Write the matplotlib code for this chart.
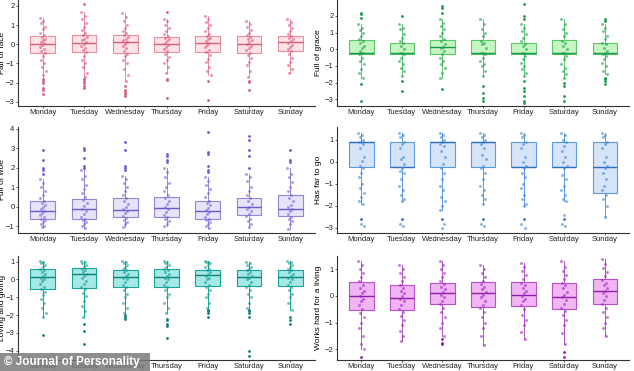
import matplotlib
matplotlib.use('Agg')
import matplotlib.pyplot as plt
from matplotlib.patches import Rectangle
import numpy as np

plt.rcParams['font.family'] = ['Liberation Sans', 'DejaVu Sans']

days = ['Monday', 'Tuesday', 'Wednesday', 'Thursday', 'Friday', 'Saturday', 'Sunday']

# --- Fair of face ---
face_q1 = [-0.47, -0.40, -0.48, -0.38, -0.38, -0.47, -0.35]
face_med = [0.0, 0.05, 0.10, 0.0, 0.05, 0.0, 0.10]
face_q3 = [0.45, 0.47, 0.50, 0.40, 0.45, 0.45, 0.45]
face_lo = [-1.7, -1.7, -1.9, -1.5, -1.6, -1.7, -1.5]
face_hi = [1.35, 1.7, 1.65, 1.3, 1.45, 1.2, 1.3]
face_out = [[-1.8, -1.9, -2.0, -2.3, -2.4, -2.6], [2.1, -1.8, -1.9, -2.0, -2.2, -2.3],
            [-2.2, -2.4, -2.5, -2.6, -2.7], [1.7, -1.8, -1.85, -2.8], [-1.9, -2.9],
            [-1.9, -1.95, -2.4], []]
face_pts = [
    [1.35, 1.2, 1.1, 0.9, 0.8, 0.6, 0.5, 0.4, 0.3, 0.2, 0.1, 0.05, -0.05, -0.15, -0.25, -0.35, -0.45, -0.6, -0.8, -1.0, -1.2, -1.4, -1.6],
    [1.7, 1.5, 1.3, 1.1, 0.9, 0.75, 0.6, 0.5, 0.4, 0.3, 0.2, 0.1, 0.0, -0.1, -0.2, -0.3, -0.4, -0.6, -0.8, -1.0, -1.2, -1.5, -1.7],
    [1.65, 1.4, 1.2, 1.0, 0.85, 0.7, 0.6, 0.5, 0.4, 0.3, 0.2, 0.1, 0.0, -0.1, -0.2, -0.35, -0.5, -0.6, -0.8, -1.0, -1.3, -1.6, -1.9],
    [1.3, 1.2, 1.0, 0.85, 0.7, 0.55, 0.45, 0.35, 0.25, 0.15, 0.05, -0.05, -0.15, -0.25, -0.35, -0.5, -0.65, -0.8, -1.0, -1.2, -1.5],
    [1.45, 1.3, 1.15, 1.0, 0.85, 0.7, 0.55, 0.45, 0.35, 0.25, 0.15, 0.05, -0.05, -0.15, -0.3, -0.4, -0.55, -0.75, -0.95, -1.2, -1.4, -1.6],
    [1.2, 1.05, 0.9, 0.75, 0.6, 0.5, 0.4, 0.3, 0.2, 0.1, 0.0, -0.1, -0.2, -0.3, -0.45, -0.55, -0.7, -0.9, -1.1, -1.4, -1.7],
    [1.3, 1.15, 1.0, 0.85, 0.7, 0.55, 0.45, 0.35, 0.25, 0.15, 0.05, -0.05, -0.15, -0.25, -0.35, -0.5, -0.7, -0.9, -1.1, -1.3, -1.5],
]

# --- Full of grace ---
grace_q1 = [-0.28, -0.28, -0.28, -0.28, -0.28, -0.28, -0.28]
grace_med = [-0.22, -0.22, 0.12, -0.22, -0.22, -0.22, -0.22]
grace_q3 = [0.53, 0.40, 0.57, 0.53, 0.38, 0.57, 0.36]
grace_lo = [-1.7, -1.6, -1.7, -1.6, -1.6, -1.7, -1.5]
grace_hi = [1.5, 1.5, 1.8, 1.8, 1.5, 1.8, 1.5]
grace_out = [[1.9, 2.1, 2.2, -2.1, -3.1], [2.0, -1.9, -2.5], [2.2, 2.5, 2.6, -2.4],
             [-2.2, -2.6, -2.9, -3.1], [1.8, 2.0, 2.7, -1.9, -2.3, -2.5, -2.8, -3.1, -3.2],
             [-2.0, -2.2, -2.8, -3.1], [1.7, 1.8, -1.7, -1.8, -1.9, -2.1]]
grace_pts = [
    [1.5, 1.3, 1.15, 1.0, 0.8, 0.6, 0.5, 0.4, 0.2, 0.1, -0.1, -0.2, -0.2, -0.3, -0.5, -0.7, -0.9, -1.2, -1.4, -1.7],
    [1.5, 1.3, 1.2, 0.9, 0.7, 0.5, 0.4, 0.2, 0.0, -0.2, -0.2, -0.3, -0.5, -0.7, -0.9, -1.1, -1.3, -1.6],
    [1.8, 1.6, 1.4, 1.2, 1.0, 0.8, 0.6, 0.5, 0.3, 0.15, 0.1, -0.1, -0.3, -0.5, -0.7, -0.9, -1.1, -1.4, -1.7],
    [1.8, 1.5, 1.2, 1.0, 0.8, 0.5, 0.4, 0.3, 0.1, -0.2, -0.2, -0.3, -0.5, -0.7, -0.9, -1.0, -1.3, -1.6],
    [1.5, 1.3, 1.1, 0.9, 0.7, 0.5, 0.3, 0.2, 0.0, -0.2, -0.25, -0.4, -0.6, -0.8, -1.0, -1.2, -1.4, -1.6],
    [1.8, 1.5, 1.2, 1.0, 0.8, 0.5, 0.4, 0.2, 0.0, -0.2, -0.25, -0.4, -0.6, -0.9, -1.1, -1.3, -1.5, -1.7],
    [1.5, 1.3, 1.1, 0.8, 0.6, 0.4, 0.3, 0.1, -0.1, -0.2, -0.3, -0.4, -0.6, -0.8, -1.0, -1.3, -1.5],
]

# --- Full of woe ---
woe_q1 = [-0.60, -0.63, -0.53, -0.50, -0.63, -0.44, -0.46]
woe_med = [-0.20, -0.12, -0.15, -0.07, -0.20, -0.02, -0.12]
woe_q3 = [0.30, 0.40, 0.45, 0.52, 0.30, 0.44, 0.58]
woe_lo = [-1.05, -1.1, -1.05, -1.0, -1.1, -1.05, -1.15]
woe_hi = [1.4, 1.9, 1.6, 2.0, 1.5, 1.7, 2.0]
woe_out = [[1.7, 1.9, 2.0, 2.4, 2.9], [2.0, 2.1, 2.5, 2.9, 3.0], [1.9, 2.0, 2.1, 2.9, 3.3],
           [2.3, 2.4, 2.6, 2.7], [1.8, 1.9, 2.1, 2.7, 2.8, 3.8], [2.0, 2.6, 2.9, 3.4, 3.6],
           [2.3, 2.4, 2.9]]
woe_pts = [
    [1.4, 1.2, 1.0, 0.8, 0.6, 0.45, 0.3, 0.2, 0.1, 0.0, -0.1, -0.2, -0.3, -0.4, -0.5, -0.6, -0.7, -0.8, -0.9, -1.0, -1.05],
    [1.9, 1.6, 1.4, 1.1, 0.9, 0.7, 0.5, 0.35, 0.2, 0.05, -0.1, -0.2, -0.35, -0.5, -0.6, -0.7, -0.8, -0.9, -1.0, -1.1],
    [1.6, 1.4, 1.2, 1.0, 0.8, 0.6, 0.45, 0.3, 0.15, 0.0, -0.1, -0.2, -0.3, -0.45, -0.55, -0.7, -0.8, -0.9, -1.05],
    [2.0, 1.8, 1.5, 1.2, 1.0, 0.8, 0.6, 0.45, 0.3, 0.15, 0.0, -0.1, -0.25, -0.4, -0.5, -0.6, -0.75, -0.9, -1.0],
    [1.5, 1.3, 1.1, 0.9, 0.7, 0.5, 0.3, 0.2, 0.1, -0.05, -0.15, -0.25, -0.35, -0.5, -0.6, -0.7, -0.8, -0.9, -1.0, -1.1],
    [1.7, 1.5, 1.3, 1.0, 0.8, 0.6, 0.45, 0.3, 0.15, 0.0, -0.1, -0.2, -0.35, -0.45, -0.6, -0.75, -0.9, -1.05],
    [2.0, 1.7, 1.5, 1.25, 1.0, 0.8, 0.6, 0.45, 0.3, 0.1, 0.0, -0.1, -0.2, -0.35, -0.5, -0.6, -0.75, -0.9, -1.15],
]

# --- Has far to go ---
far_q1 = [-0.26, -0.26, -0.26, -0.26, -0.26, -0.26, -1.40]
far_med = [0.89, -0.26, 0.89, 0.89, -0.26, -0.26, -0.26]
far_q3 = [0.89, 0.89, 0.89, 0.89, 0.89, 0.89, 0.89]
far_lo = [-1.9, -1.8, -2.2, -1.9, -2.0, -1.8, -2.5]
far_hi = [1.3, 1.3, 1.3, 1.3, 1.3, 1.3, 1.3]
far_out = [[-2.6], [-2.6], [-2.6], [-2.6], [-2.6], [-2.6], []]
far_pts = [
    [1.3, 1.2, 1.1, 1.0, 0.9, 0.9, 0.8, 0.6, 0.2, 0.05, -0.2, -0.3, -0.5, -0.7, -1.0, -1.2, -1.4, -1.6, -1.8, -1.9, -2.8, -2.9],
    [1.3, 1.2, 1.1, 0.9, 0.8, 0.6, 0.2, 0.1, -0.1, -0.3, -0.4, -0.5, -0.8, -1.1, -1.3, -1.5, -1.7, -1.8, -2.8, -2.9],
    [1.3, 1.2, 1.1, 1.0, 0.9, 0.8, 0.7, 0.5, 0.2, -0.1, -0.3, -0.5, -0.8, -1.1, -1.3, -1.6, -1.8, -2.0, -2.2, -2.8, -3.0],
    [1.3, 1.2, 1.1, 1.0, 0.9, 0.8, 0.6, 0.3, 0.1, -0.2, -0.3, -0.5, -0.8, -1.1, -1.3, -1.5, -1.7, -1.9, -2.8, -2.9],
    [1.3, 1.2, 1.1, 0.9, 0.8, 0.6, 0.2, 0.0, -0.2, -0.3, -0.5, -0.7, -1.0, -1.2, -1.5, -1.7, -1.9, -2.0, -2.8, -3.0],
    [1.3, 1.2, 1.0, 0.9, 0.7, 0.5, 0.2, 0.0, -0.2, -0.3, -0.6, -0.8, -1.1, -1.3, -1.5, -1.7, -1.8, -2.4, -2.8, -2.9],
    [1.3, 1.2, 1.1, 0.9, 0.8, 0.6, 0.2, 0.0, -0.2, -0.3, -0.5, -0.8, -1.1, -1.3, -1.5, -1.7, -2.0, -2.5],
]

# --- Loving and giving ---
love_q1 = [-0.53, -0.50, -0.40, -0.40, -0.35, -0.35, -0.35]
love_med = [0.16, 0.29, 0.16, 0.16, 0.23, 0.16, 0.12]
love_q3 = [0.60, 0.63, 0.55, 0.60, 0.55, 0.53, 0.55]
love_lo = [-2.1, -2.1, -1.9, -1.9, -1.6, -1.6, -1.7]
love_hi = [1.05, 1.05, 1.05, 1.05, 1.05, 1.0, 1.05]
love_out = [[-3.1], [-2.5, -2.9, -3.6], [-2.0, -2.1, -2.2], [-2.2, -2.3, -2.5, -2.6, -3.3],
            [-1.7, -1.8, -1.9, -2.1], [-1.7, -1.8, -1.9, -2.1, -4.0, -4.3], [-2.1, -2.3, -2.5]]
love_pts = [
    [1.05, 1.0, 0.9, 0.8, 0.7, 0.6, 0.5, 0.4, 0.3, 0.2, 0.1, 0.0, -0.1, -0.25, -0.4, -0.55, -0.7, -0.9, -1.1, -1.3, -1.6, -1.9, -2.1],
    [1.05, 1.0, 0.9, 0.8, 0.7, 0.6, 0.5, 0.4, 0.3, 0.2, 0.05, -0.1, -0.25, -0.4, -0.55, -0.75, -0.95, -1.2, -1.5, -1.8, -2.1],
    [1.05, 1.0, 0.9, 0.8, 0.7, 0.6, 0.5, 0.4, 0.3, 0.2, 0.1, 0.0, -0.15, -0.3, -0.45, -0.6, -0.8, -1.0, -1.3, -1.6, -1.9],
    [1.05, 1.0, 0.9, 0.8, 0.7, 0.6, 0.5, 0.4, 0.3, 0.2, 0.1, 0.0, -0.15, -0.3, -0.45, -0.6, -0.8, -1.0, -1.3, -1.6, -1.9],
    [1.05, 1.0, 0.95, 0.9, 0.8, 0.7, 0.6, 0.5, 0.4, 0.3, 0.2, 0.1, 0.0, -0.15, -0.3, -0.45, -0.6, -0.8, -1.0, -1.3, -1.6],
    [1.0, 0.9, 0.8, 0.7, 0.6, 0.5, 0.4, 0.3, 0.2, 0.1, 0.0, -0.15, -0.3, -0.45, -0.6, -0.8, -1.0, -1.3, -1.6],
    [1.05, 1.0, 0.9, 0.8, 0.7, 0.6, 0.5, 0.4, 0.3, 0.2, 0.1, 0.0, -0.15, -0.3, -0.45, -0.6, -0.8, -1.0, -1.3, -1.7],
]

# --- Works hard for a living ---
work_q1 = [-0.51, -0.54, -0.30, -0.42, -0.36, -0.49, -0.30]
work_med = [0.0, -0.07, 0.12, 0.12, 0.05, -0.03, 0.19]
work_q3 = [0.53, 0.42, 0.50, 0.53, 0.53, 0.50, 0.65]
work_lo = [-2.0, -1.7, -1.5, -1.85, -1.6, -1.8, -1.5]
work_hi = [1.3, 1.15, 1.3, 1.15, 1.25, 1.3, 1.4]
work_out = [[-2.3], [], [-1.6, -1.75, -1.8], [], [], [-2.1, -2.3], []]
work_pts = [
    [1.3, 1.15, 1.0, 0.85, 0.7, 0.55, 0.4, 0.3, 0.2, 0.1, 0.0, -0.1, -0.2, -0.35, -0.5, -0.65, -0.8, -1.0, -1.2, -1.5, -1.8, -2.0],
    [1.15, 1.0, 0.85, 0.7, 0.55, 0.4, 0.3, 0.2, 0.1, 0.0, -0.1, -0.2, -0.35, -0.5, -0.6, -0.75, -0.9, -1.1, -1.3, -1.5, -1.7],
    [1.3, 1.15, 1.0, 0.85, 0.7, 0.55, 0.45, 0.35, 0.25, 0.15, 0.05, -0.05, -0.2, -0.3, -0.45, -0.6, -0.8, -1.0, -1.2, -1.5],
    [1.15, 1.0, 0.85, 0.7, 0.55, 0.45, 0.35, 0.25, 0.15, 0.05, -0.05, -0.2, -0.35, -0.45, -0.6, -0.8, -1.0, -1.2, -1.5, -1.85],
    [1.25, 1.1, 0.95, 0.8, 0.65, 0.5, 0.4, 0.3, 0.2, 0.1, 0.0, -0.1, -0.2, -0.35, -0.5, -0.7, -0.9, -1.1, -1.35, -1.6],
    [1.3, 1.1, 0.95, 0.8, 0.65, 0.5, 0.4, 0.3, 0.15, 0.05, -0.05, -0.15, -0.3, -0.45, -0.55, -0.7, -0.9, -1.1, -1.4, -1.8],
    [1.4, 1.2, 1.05, 0.9, 0.75, 0.6, 0.5, 0.4, 0.3, 0.2, 0.1, 0.0, -0.15, -0.3, -0.45, -0.6, -0.8, -1.0, -1.2, -1.5],
]


def draw_panel(ax, pts, q1, med, q3, lo, hi, out, face, edge, medc, ptc, ylabel, ylim, yticks, labx):
    stats = []
    for i in range(len(days)):
        stats.append(dict(med=med[i], q1=q1[i], q3=q3[i], whislo=lo[i], whishi=hi[i], fliers=[]))
    pos = np.arange(1, len(days) + 1)
    ax.bxp(stats, positions=pos, widths=0.6, patch_artist=True, showcaps=False,
           boxprops=dict(facecolor=face, edgecolor=edge, linewidth=0.8),
           medianprops=dict(color=medc, linewidth=1.0),
           whiskerprops=dict(color=edge, linewidth=0.7), zorder=2)
    for i, vals in enumerate(pts):
        # small horizontal jitter, deterministic
        k = np.arange(len(vals))
        off = ((k * 0.618) % 1 - 0.5) * 0.14
        ax.scatter(pos[i] + off, vals, s=4.5, color=ptc, alpha=0.6, linewidths=0, zorder=3)
        if out[i]:
            ax.scatter([pos[i]] * len(out[i]), out[i], s=4, color=medc, linewidths=0, zorder=4)
    ax.set_xlim(0.4, 7.6)
    ax.set_ylim(*ylim)
    ax.set_yticks(yticks)
    ax.set_xticks(pos)
    ax.set_xticklabels(days)
    ax.set_ylabel(ylabel, fontsize=6)
    ax.yaxis.set_label_coords(labx, 0.5)
    ax.tick_params(labelsize=5.5, length=1.5, width=0.5, pad=1, colors='#222222')
    for s in ['top', 'right']:
        ax.spines[s].set_visible(False)
    for s in ['left', 'bottom']:
        ax.spines[s].set_color('#333333')
        ax.spines[s].set_linewidth(0.8)


fig = plt.figure(figsize=(6.34, 3.71), dpi=100)
W, H = 634, 371
lefts = [18, 337]
rights = [315, 629]
rows = [(0, 106), (127, 233), (256, 360)]


def make_ax(col, row):
    x0, x1 = lefts[col], rights[col]
    t, b = rows[row]
    return fig.add_axes([x0 / W, 1 - b / H, (x1 - x0) / W, (b - t) / H])


lx_left = (6 - 18) / (315 - 18)
lx_right = (322 - 337) / (629 - 337)

draw_panel(make_ax(0, 0), face_pts, face_q1, face_med, face_q3, face_lo, face_hi, face_out,
           '#fde3e6', '#e8909e', '#d0607a', '#e0507a', 'Fair of face', (-3.22, 2.31), [-3, -2, -1, 0, 1, 2], lx_left)
draw_panel(make_ax(1, 0), grace_pts, grace_q1, grace_med, grace_q3, grace_lo, grace_hi, grace_out,
           '#c5f5c0', '#5cc66a', '#1c9a4c', '#17a050', 'Full of grace', (-3.4, 2.95), [-3, -2, -1, 0, 1, 2], lx_right)
draw_panel(make_ax(0, 1), woe_pts, woe_q1, woe_med, woe_q3, woe_lo, woe_hi, woe_out,
           '#e6e4f8', '#9088d8', '#6a5acd', '#7560d8', 'Full of woe', (-1.34, 4.08), [-1, 0, 1, 2, 3, 4], lx_left)
draw_panel(make_ax(1, 1), far_pts, far_q1, far_med, far_q3, far_lo, far_hi, far_out,
           '#d5e5f7', '#5a9ae0', '#2f6fc0', '#3c86dd', 'Has far to go', (-3.23, 1.57), [-3, -2, -1, 0, 1], lx_right)
draw_panel(make_ax(0, 2), love_pts, love_q1, love_med, love_q3, love_lo, love_hi, love_out,
           '#a5e9e6', '#1aa39b', '#0f7f78', '#109a90', 'Loving and giving', (-4.52, 1.31), [-4, -3, -2, -1, 0, 1], lx_left)
draw_panel(make_ax(1, 2), work_pts, work_q1, work_med, work_q3, work_lo, work_hi, work_out,
           '#f0b5f2', '#b552c9', '#8a20a8', '#a020c8', 'Works hard for a living', (-2.4, 1.5), [-2, -1, 0, 1], lx_right)

# watermark
fig.patches.append(Rectangle((0, 0), 150 / W, 18 / H, transform=fig.transFigure,
                             facecolor='#7a7a7a', alpha=0.85, edgecolor='none', zorder=10))
fig.text(4 / W, 9 / H, '\u00a9 Journal of Personality', color='white', fontsize=8.5,
         fontweight='bold', va='center', ha='left', zorder=11)

fig.savefig('out.png', dpi=100)
